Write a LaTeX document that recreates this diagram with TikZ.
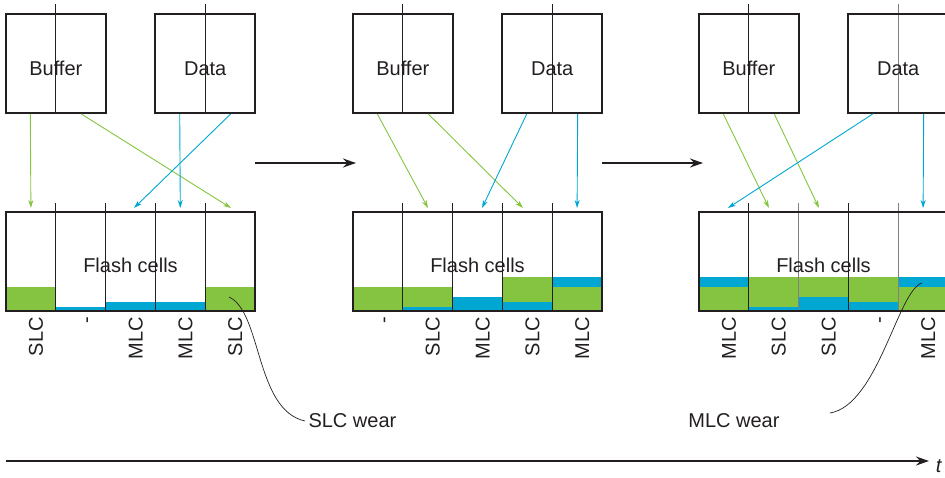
\documentclass[tikz,border=0pt]{standalone}
\usepackage{fontspec}
\setmainfont{Liberation Sans}
\usetikzlibrary{arrows.meta,calc}
\definecolor{slcgreen}{RGB}{133,196,65}
\definecolor{mlcblue}{RGB}{0,167,211}
\definecolor{inkcolor}{RGB}{35,31,32}

\begin{document}
\begin{tikzpicture}[
    x=1pt, y=-1pt,
    every node/.style={font=\fontsize{20}{22}\selectfont, text=inkcolor},
    block/.style={rectangle, draw=inkcolor, line width=1.9pt, minimum width=100pt, minimum height=99pt, inner sep=0pt},
    flashbox/.style={rectangle, draw=inkcolor, line width=1.9pt, minimum width=249pt, minimum height=99pt, inner sep=0pt},
    divider/.style={draw=inkcolor, line width=0.8pt},
    softdivider/.style={draw=gray, line width=0.8pt},
    slcarrow/.style={-{Stealth[length=8pt,width=5pt]}, slcgreen, line width=0.9pt},
    mlcarrow/.style={-{Stealth[length=8pt,width=5pt]}, mlcblue, line width=0.9pt},
    steparrow/.style={-{Stealth[length=13pt,width=9pt]}, inkcolor, line width=1.8pt},
    celllabel/.style={rotate=90, anchor=base east, inner sep=0pt},
    wear/.style={inkcolor, line width=0.7pt}
]
    \useasboundingbox (0,0) rectangle (945,477);
    \clip (0,0) rectangle (945,477);

    % Cell wear levels
    \fill[slcgreen] (6,287) rectangle (55.8,311);
    \fill[mlcblue] (55.8,307) rectangle (105.6,311);
    \fill[mlcblue] (105.6,302) rectangle (155.4,311);
    \fill[mlcblue] (155.4,302) rectangle (205.2,311);
    \fill[slcgreen] (205.2,287) rectangle (255,311);

    \fill[slcgreen] (353,287) rectangle (402.8,311);
    \fill[slcgreen] (402.8,287) rectangle (452.6,307);
    \fill[mlcblue] (402.8,307) rectangle (452.6,311);
    \fill[mlcblue] (452.6,297) rectangle (502.4,311);
    \fill[slcgreen] (502.4,277) rectangle (552.2,302);
    \fill[mlcblue] (502.4,302) rectangle (552.2,311);
    \fill[mlcblue] (552.2,277) rectangle (602,287);
    \fill[slcgreen] (552.2,287) rectangle (602,311);

    \fill[mlcblue] (699,277) rectangle (748.8,287);
    \fill[slcgreen] (699,287) rectangle (748.8,311);
    \fill[slcgreen] (748.8,277) rectangle (798.6,307);
    \fill[mlcblue] (748.8,307) rectangle (798.6,311);
    \fill[slcgreen] (798.6,277) rectangle (848.4,297);
    \fill[mlcblue] (798.6,297) rectangle (848.4,311);
    \fill[slcgreen] (848.4,277) rectangle (898.2,302);
    \fill[mlcblue] (848.4,302) rectangle (898.2,311);
    \fill[mlcblue] (898.2,277) rectangle (948,287);
    \fill[slcgreen] (898.2,287) rectangle (948,311);

    % Dividers
    \draw[divider] (55.8,203) -- (55.8,311);
    \draw[divider] (105.6,203) -- (105.6,311);
    \draw[divider] (155.4,203) -- (155.4,311);
    \draw[divider] (205.2,203) -- (205.2,311);
    \draw[divider] (55.8,4) -- (55.8,113);
    \draw[divider] (205.2,4) -- (205.2,113);

    \draw[divider] (402.8,203) -- (402.8,311);
    \draw[divider] (452.6,203) -- (452.6,311);
    \draw[divider] (502.4,203) -- (502.4,311);
    \draw[divider] (552.2,203) -- (552.2,311);
    \draw[divider] (402.8,4) -- (402.8,113);
    \draw[divider] (552.2,4) -- (552.2,113);

    \draw[divider] (748.8,203) -- (748.8,311);
    \draw[softdivider] (798.6,203) -- (798.6,311);
    \draw[divider] (848.4,203) -- (848.4,311);
    \draw[softdivider] (898.2,203) -- (898.2,311);
    \draw[divider] (748.8,4) -- (748.8,113);
    \draw[softdivider] (898.2,4) -- (898.2,113);

    % Buffer and data blocks
    \node[block, label={[yshift=-5pt]center:Buffer}] (buf1) at (55.8,63.5) {};
    \node[block, label={[yshift=-5pt]center:Data}] (dat1) at (205.2,63.5) {};
    \node[block, label={[yshift=-5pt]center:Buffer}] (buf2) at (402.8,63.5) {};
    \node[block, label={[yshift=-5pt]center:Data}] (dat2) at (552.2,63.5) {};
    \node[block, label={[yshift=-5pt]center:Buffer}] (buf3) at (748.8,63.5) {};
    \node[block, label={[yshift=-5pt]center:Data}] (dat3) at (898.2,63.5) {};

    % Flash cells
    \node[flashbox, label={[yshift=-4pt]center:Flash cells}] (flash1) at (130.5,261.5) {};
    \node[flashbox, label={[yshift=-4pt]center:Flash cells}] (flash2) at (477.5,261.5) {};
    \node[flashbox, label={[yshift=-4pt]center:Flash cells}] (flash3) at (823.5,261.5) {};

    % Write targets
    \coordinate (e11) at (30.9,208);
    \coordinate (e12) at (231,208);
    \coordinate (e13) at (180.3,208);
    \coordinate (e14) at (134,208);
    \coordinate (e21) at (428,208);
    \coordinate (e22) at (523,208);
    \coordinate (e23) at (482,208);
    \coordinate (e24) at (577.1,208);
    \coordinate (e31) at (769,208);
    \coordinate (e32) at (819,208);
    \coordinate (e33) at (728,208);
    \coordinate (e34) at (923.1,208);

    % Writes
    \draw[slcarrow] ($(buf1.south west)!0.25!(buf1.south east)$) -- (e11);
    \draw[slcarrow] ($(buf1.south west)!0.75!(buf1.south east)$) -- (e12);
    \draw[mlcarrow] ($(dat1.south west)!0.25!(dat1.south east)$) -- (e13);
    \draw[mlcarrow] ($(dat1.south west)!0.75!(dat1.south east)$) -- (e14);

    \draw[slcarrow] ($(buf2.south west)!0.25!(buf2.south east)$) -- (e21);
    \draw[slcarrow] ($(buf2.south west)!0.75!(buf2.south east)$) -- (e22);
    \draw[mlcarrow] ($(dat2.south west)!0.25!(dat2.south east)$) -- (e23);
    \draw[mlcarrow] ($(dat2.south west)!0.75!(dat2.south east)$) -- (e24);

    \draw[slcarrow] ($(buf3.south west)!0.25!(buf3.south east)$) -- (e31);
    \draw[slcarrow] ($(buf3.south west)!0.75!(buf3.south east)$) -- (e32);
    \draw[mlcarrow] ($(dat3.south west)!0.25!(dat3.south east)$) -- (e33);
    \draw[mlcarrow] ($(dat3.south west)!0.75!(dat3.south east)$) -- (e34);

    % Cell modes
    \node[celllabel] (l11) at (42.9,317) {SLC};
    \node[celllabel] (l12) at (92.7,317) {-};
    \node[celllabel] (l13) at (142.5,317) {MLC};
    \node[celllabel] (l14) at (192.3,317) {MLC};
    \node[celllabel] (l15) at (242.1,317) {SLC};

    \node[celllabel] (l21) at (389.9,317) {-};
    \node[celllabel] (l22) at (439.7,317) {SLC};
    \node[celllabel] (l23) at (489.5,317) {MLC};
    \node[celllabel] (l24) at (539.3,317) {SLC};
    \node[celllabel] (l25) at (589.1,317) {MLC};

    \node[celllabel] (l31) at (735.9,317) {MLC};
    \node[celllabel] (l32) at (785.7,317) {SLC};
    \node[celllabel] (l33) at (835.5,317) {SLC};
    \node[celllabel] (l34) at (885.3,317) {-};
    \node[celllabel] (l35) at (935.1,317) {MLC};

    % Steps between states
    \coordinate (s1a) at (255,163);
    \coordinate (s1b) at (356,163);
    \coordinate (s2a) at (602,163);
    \coordinate (s2b) at (703,163);
    \draw[steparrow] (s1a) -- (s1b);
    \draw[steparrow] (s2a) -- (s2b);

    % Wear callouts
    \node[anchor=west] (slcwear) at (305,421) {SLC wear};
    \node[anchor=east] (mlcwear) at (783,421) {MLC wear};
    \coordinate (slcspot) at (229,297);
    \coordinate (mlcspot) at (922,283);
    \coordinate (mlctail) at (830,413);
    \draw[wear] (slcspot) .. controls (262,312) and (255,410) .. (slcwear.west);
    \draw[wear] (mlcspot) .. controls (898,290) and (878,405) .. (mlctail);

    % Time axis
    \coordinate (ta) at (6,461);
    \coordinate (tb) at (929,461);
    \draw[steparrow] (ta) -- (tb);
    \node (tlabel) at (939,466) {\textit{t}};
\end{tikzpicture}
\end{document}
